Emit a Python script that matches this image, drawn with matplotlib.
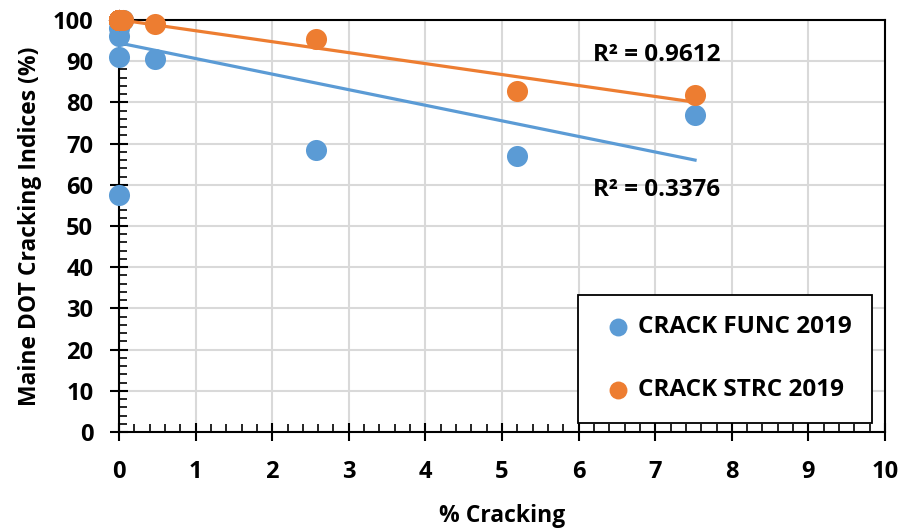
import matplotlib
matplotlib.use("Agg")
import matplotlib.pyplot as plt
import numpy as np
from matplotlib.ticker import MultipleLocator

plt.rcParams['font.family'] = ['Open Sans', 'DejaVu Sans']
plt.rcParams['font.weight'] = 'bold'

# data (several points overlap at x = 0, y = 100)
func_x = [0, 0, 0, 0, 0, 0, 0, 0, 0, 0, 0, 0, 0.05, 0.47, 2.57, 5.2, 7.52]
func_y = [57.5, 91, 96, 98, 100, 100, 100, 100, 100, 100, 100, 100, 100, 90.5, 68.5, 67, 77]
strc_x = [0, 0, 0, 0, 0, 0, 0, 0, 0, 0, 0, 0, 0.05, 0.47, 2.57, 5.2, 7.52]
strc_y = [100, 100, 100, 100, 100, 100, 100, 100, 100, 100, 100, 100, 100, 99, 95.5, 82.7, 81.7]
r2_func = "R² = 0.3376"
r2_strc = "R² = 0.9612"

blue = "#5B9BD5"
orange = "#ED7D31"

fig = plt.figure(figsize=(9.02, 5.29), dpi=100)
ax = fig.add_axes([0.1319, 0.1834, 0.8493, 0.7788])

ax.scatter(func_x, func_y, s=230, color=blue, label="CRACK FUNC 2019",
           zorder=4, clip_on=False, linewidths=0)
ax.scatter(strc_x, strc_y, s=230, color=orange, label="CRACK STRC 2019",
           zorder=4, clip_on=False, linewidths=0)

# linear trendlines
for xs, ys, c in [(func_x, func_y, blue), (strc_x, strc_y, orange)]:
    k, b = np.polyfit(xs, ys, 1)
    xx = np.array([0, max(xs)])
    ax.plot(xx, k * xx + b, color=c, lw=2.3, zorder=5)

ax.text(7.02, 91.5, r2_strc, fontsize=17.5, fontweight='bold', ha='center', va='center')
ax.text(7.02, 58.7, r2_func, fontsize=17.5, fontweight='bold', ha='center', va='center')

ax.set_xlim(0, 10)
ax.set_ylim(0, 100)
ax.xaxis.set_major_locator(MultipleLocator(1))
ax.xaxis.set_minor_locator(MultipleLocator(0.2))
ax.yaxis.set_major_locator(MultipleLocator(10))
ax.yaxis.set_minor_locator(MultipleLocator(2))
ax.tick_params(which='major', direction='inout', length=13, width=1.5,
               labelsize=17, pad=12)
ax.tick_params(which='minor', direction='in', length=6, width=1.2)
ax.tick_params(axis='x', which='major', pad=14)
ax.grid(True, which='major', color='#D9D9D9', lw=1.5)
ax.set_axisbelow(True)
for sp in ax.spines.values():
    sp.set_linewidth(1.5)
    sp.set_color('black')

ax.set_xlabel("% Cracking", fontsize=16.5, fontweight='bold', labelpad=14)
ax.set_ylabel("Maine DOT Cracking Indices (%)", fontsize=16.5, fontweight='bold', labelpad=8)

leg = ax.legend(loc='lower right', bbox_to_anchor=(0.983, 0.022), fontsize=17.5,
                frameon=True, fancybox=False, edgecolor='black', framealpha=1,
                labelspacing=1.6, borderpad=0.85, handletextpad=0.0,
                handlelength=1.6, markerscale=0.85, borderaxespad=0)
leg.get_frame().set_linewidth(1.3)
leg.set_zorder(6)

fig.savefig("out.png", dpi=100)
